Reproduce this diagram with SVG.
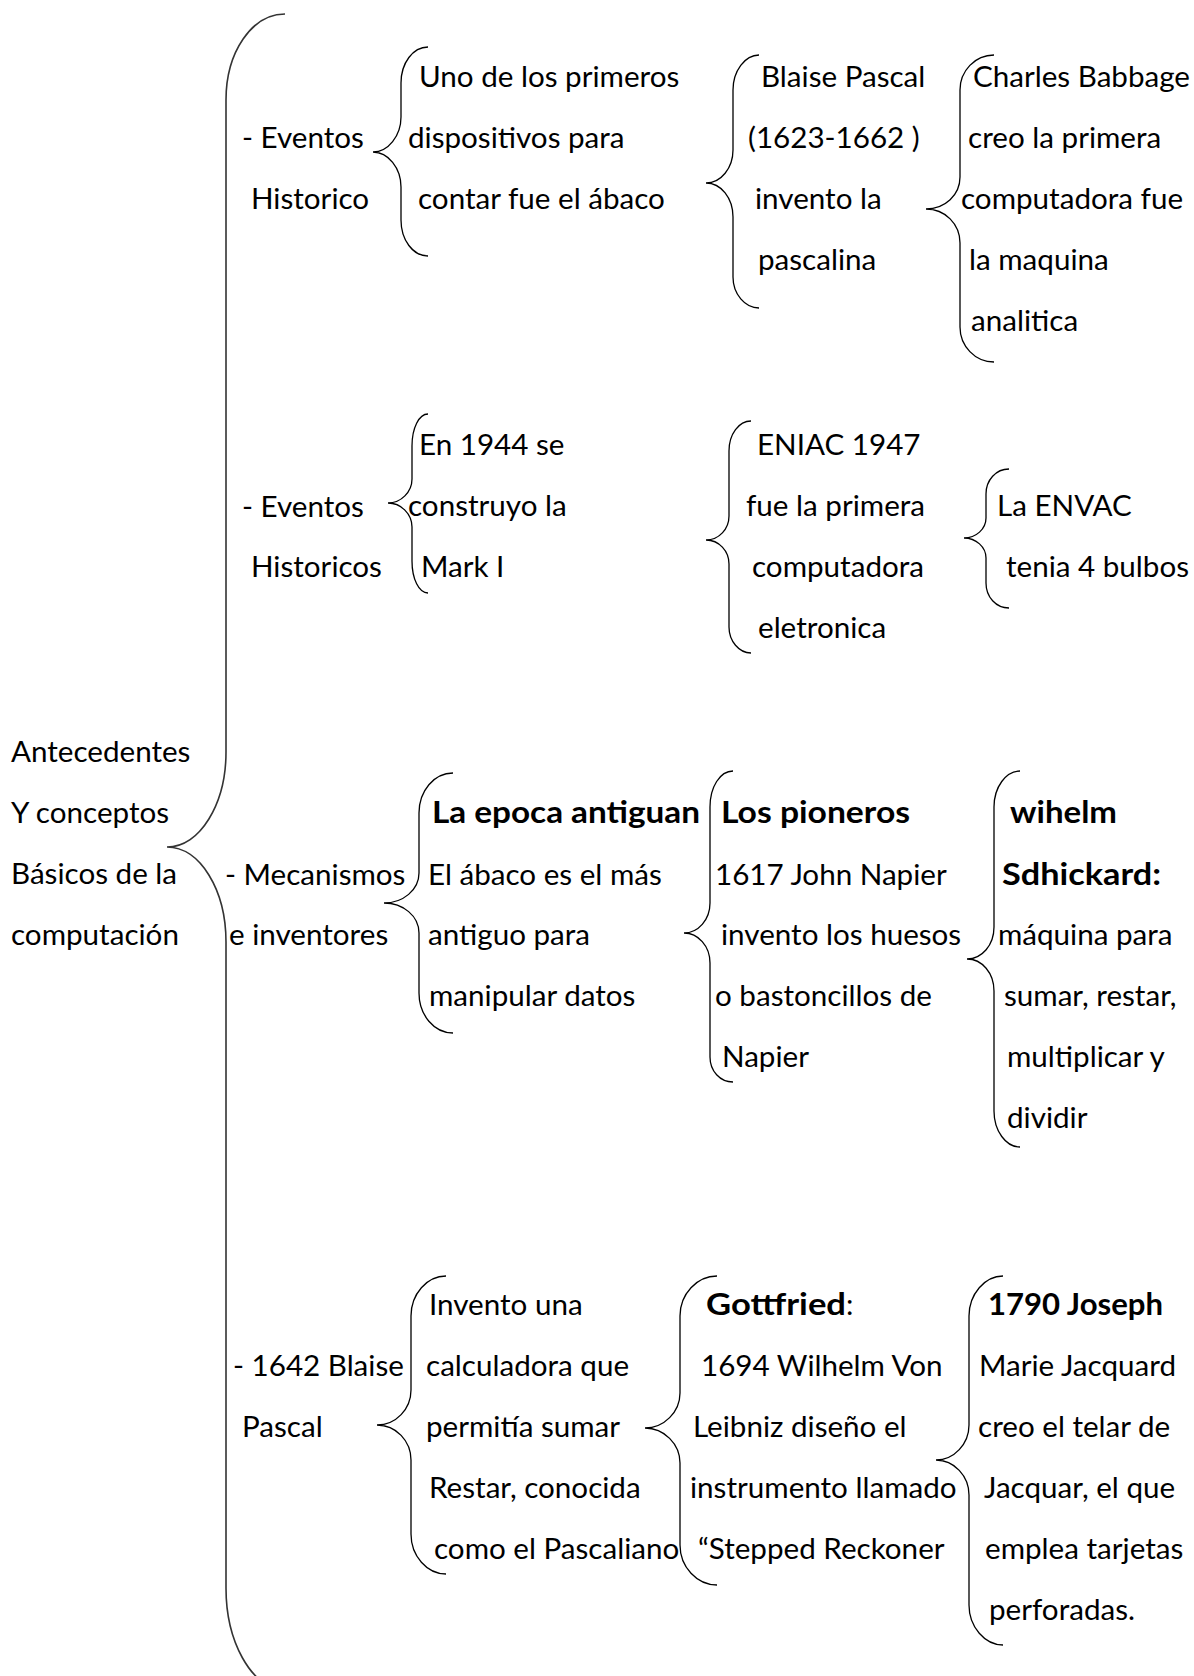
<svg xmlns="http://www.w3.org/2000/svg" width="1194" height="1676" viewBox="0 0 1194 1676">
<style>
text{font-family:Lato,"Open Sans","Liberation Sans",sans-serif;font-size:29.6px;fill:#000}
.b{font-weight:bold}
.br{fill:none;stroke:#000;stroke-width:1.3}
.main{fill:none;stroke:#333;stroke-width:1.6}
</style>
<rect width="1194" height="1676" fill="#fff"/>
<g id="connectors">
<path id="brace-main" class="main" d="M285,14 C252,14 226,52 226,100 L226,752 C226,804 200,847 167,847 C200,847 226,890 226,942 L226,1588 C226,1640 250,1688 285,1690"/>
<path id="brace-a" class="br" d="M428,47 C413,47 401,63 401,83 L401,117 C401,136 388,152 373,152 C388,152 401,168 401,187 L401,220 C401,240 413,256 428,256"/>
<path id="brace-b" class="br" d="M759,55 C745,55 733,71 733,90 L733,150 C733,168 721,183 706,183 C721,183 733,198 733,217 L733,277 C733,294 745,308 759,308"/>
<path id="brace-c" class="br" d="M994,55 C975,55 960,71 960,90 L960,177 C960,195 945,209 926,209 C945,209 960,224 960,243 L960,327 C960,346 975,362 994,362"/>
<path id="brace-d" class="br" d="M428,414 C419,414 412,428 412,446 L412,479 C412,492 401,503 388,503 C401,503 412,514 412,527 L412,561 C412,579 419,593 428,593"/>
<path id="brace-e" class="br" d="M751,421 C739,421 729,434 729,451 L729,516 C729,529 719,540 706,540 C719,540 729,551 729,564 L729,627 C729,641 739,653 751,653"/>
<path id="brace-f" class="br" d="M1009,469 C996,469 986,480 986,494 L986,518 C986,529 976,538 964,538 C976,538 986,547 986,558 L986,583 C986,597 996,608 1009,608"/>
<path id="brace-g" class="br" d="M453,773 C434,773 419,791 419,813 L419,873 C419,890 403,903 384,903 C403,903 419,916 419,933 L419,993 C419,1015 434,1033 453,1033"/>
<path id="brace-h" class="br" d="M733,771 C720,771 710,787 710,807 L710,903 C710,920 698,933 684,933 C698,933 710,946 710,963 L710,1057 C710,1071 720,1082 733,1082"/>
<path id="brace-i" class="br" d="M1020,771 C1006,771 994,787 994,807 L994,927 C994,945 982,959 967,959 C982,959 994,973 994,991 L994,1111 C994,1131 1006,1147 1020,1147"/>
<path id="brace-j" class="br" d="M446,1276 C427,1276 411,1294 411,1316 L411,1390 C411,1409 396,1425 377,1425 C396,1425 411,1441 411,1460 L411,1534 C411,1556 427,1574 446,1574"/>
<path id="brace-k" class="br" d="M717,1276 C697,1276 680,1294 680,1316 L680,1393 C680,1412 664,1428 645,1428 C664,1428 680,1444 680,1463 L680,1545 C680,1567 697,1585 717,1585"/>
<path id="brace-l" class="br" d="M1003,1276 C985,1276 969,1294 969,1316 L969,1425 C969,1444 954,1460 936,1460 C954,1460 969,1476 969,1495 L969,1605 C969,1627 985,1645 1003,1645"/>
</g>
<g id="root">
<text x="11" y="762">Antecedentes</text>
<text x="11" y="823">Y conceptos</text>
<text x="11" y="884">Básicos de la</text>
<text x="11" y="945">computación</text>
</g>
<g id="n-eventos1">
<text x="242" y="148">- Eventos</text>
<text x="251" y="209">Historico</text>
</g>
<g id="n-abaco">
<text x="419" y="87">Uno de los primeros</text>
<text x="408" y="148">dispositivos para</text>
<text x="418" y="209">contar fue el ábaco</text>
</g>
<g id="n-pascal">
<text x="761" y="87">Blaise Pascal</text>
<text x="748" y="148">(1623-1662 )</text>
<text x="755" y="209">invento la</text>
<text x="758" y="270">pascalina</text>
</g>
<g id="n-babbage">
<text x="973" y="87">Charles Babbage</text>
<text x="968" y="148">creo la primera</text>
<text x="961" y="209">computadora fue</text>
<text x="969" y="270">la maquina</text>
<text x="971" y="331">analitica</text>
</g>
<g id="n-eventos2">
<text x="242" y="517">- Eventos</text>
<text x="251" y="577">Historicos</text>
</g>
<g id="n-mark1">
<text x="419" y="455">En 1944 se</text>
<text x="408" y="516">construyo la</text>
<text x="421" y="577">Mark I</text>
</g>
<g id="n-eniac">
<text x="757" y="455">ENIAC 1947</text>
<text x="746" y="516">fue la primera</text>
<text x="752" y="577">computadora</text>
<text x="758" y="638">eletronica</text>
</g>
<g id="n-envac">
<text x="997" y="516">La ENVAC</text>
<text x="1006" y="577">tenia 4 bulbos</text>
</g>
<g id="n-mecanismos">
<text x="225" y="885">- Mecanismos</text>
<text x="229" y="945">e inventores</text>
</g>
<g id="n-epoca">
<text x="432" y="823" class="b" textLength="268" lengthAdjust="spacingAndGlyphs">La epoca antiguan</text>
<text x="428" y="885">El ábaco es el más</text>
<text x="428" y="945">antiguo para</text>
<text x="429" y="1006">manipular datos</text>
</g>
<g id="n-pioneros">
<text x="721" y="823" class="b" textLength="189" lengthAdjust="spacingAndGlyphs">Los pioneros</text>
<text x="715" y="885">1617 John Napier</text>
<text x="721" y="945">invento los huesos</text>
<text x="715" y="1006">o bastoncillos de</text>
<text x="722" y="1067">Napier</text>
</g>
<g id="n-schickard">
<text x="1010" y="823" class="b" textLength="107" lengthAdjust="spacingAndGlyphs">wihelm</text>
<text x="1002" y="885" class="b" textLength="159" lengthAdjust="spacingAndGlyphs">Sdhickard:</text>
<text x="998" y="945">máquina para</text>
<text x="1004" y="1006">sumar, restar,</text>
<text x="1007" y="1067">multiplicar y</text>
<text x="1007" y="1128">dividir</text>
</g>
<g id="n-pascal1642">
<text x="233" y="1376">- 1642 Blaise</text>
<text x="242" y="1437">Pascal</text>
</g>
<g id="n-calculadora">
<text x="429" y="1315">Invento una</text>
<text x="426" y="1376">calculadora que</text>
<text x="426" y="1437">permitía sumar</text>
<text x="429" y="1498">Restar, conocida</text>
<text x="434" y="1559">como el Pascaliano</text>
</g>
<g id="n-leibniz">
<text x="706" y="1315"><tspan class="b" textLength="140" lengthAdjust="spacingAndGlyphs">Gottfried</tspan>:</text>
<text x="701" y="1376">1694 Wilhelm Von</text>
<text x="693" y="1437">Leibniz diseño el</text>
<text x="690" y="1498">instrumento llamado</text>
<text x="698" y="1559">“Stepped Reckoner</text>
</g>
<g id="n-jacquard">
<text x="988" y="1315" class="b" textLength="175" lengthAdjust="spacingAndGlyphs">1790 Joseph</text>
<text x="979" y="1376">Marie Jacquard</text>
<text x="978" y="1437">creo el telar de</text>
<text x="984" y="1498">Jacquar, el que</text>
<text x="985" y="1559">emplea tarjetas</text>
<text x="989" y="1620">perforadas.</text>
</g>
</svg>
